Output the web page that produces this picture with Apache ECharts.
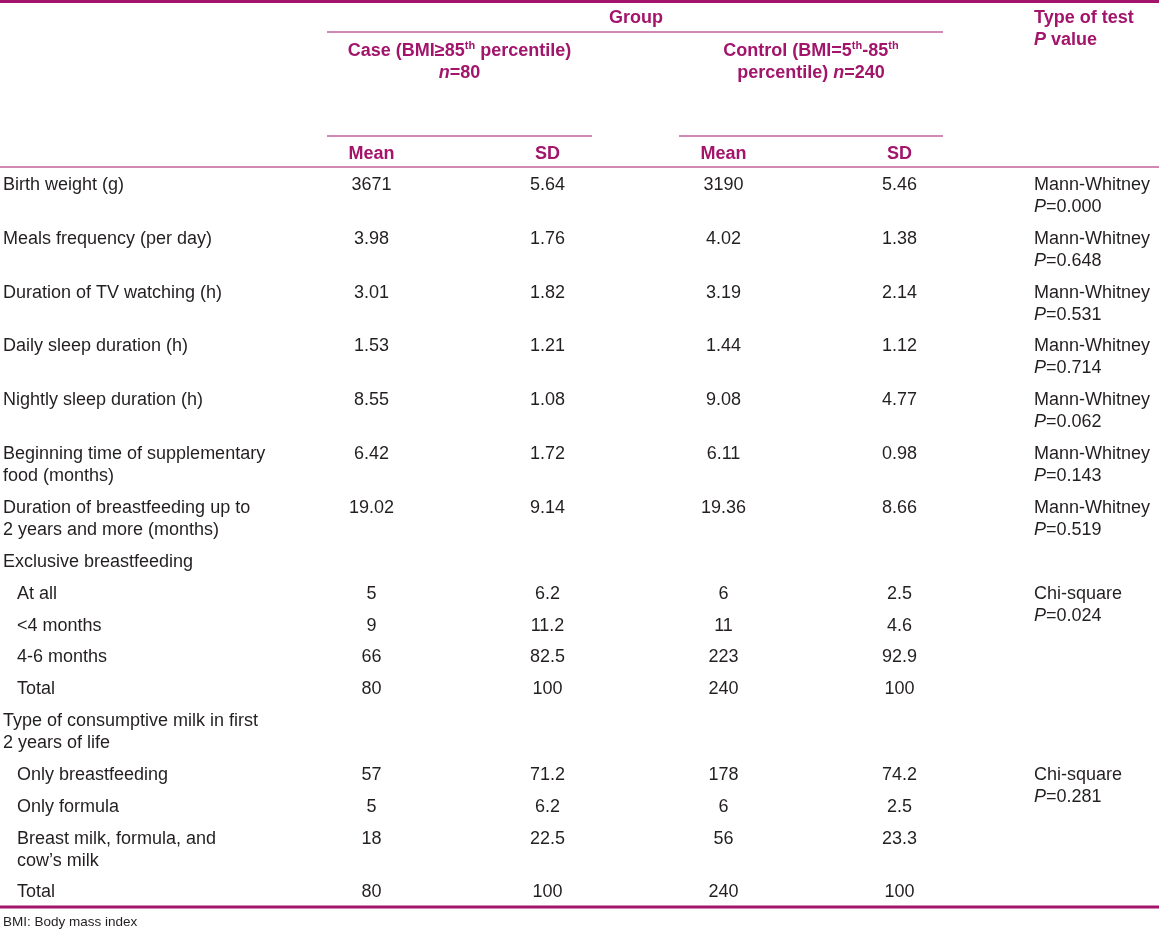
<!DOCTYPE html>
<html>
<head>
<meta charset="utf-8">
<script src="https://cdn.jsdelivr.net/npm/echarts@6/dist/echarts.min.js"></script>
<style>html,body{margin:0;padding:0;background:#fff}#c{width:1159px;height:930px}</style>
</head>
<body>
<div id="c"></div>
<script>
// ---------- DATA ----------
const rowLabels = [
  'Birth weight (g)',
  'Meals frequency (per day)',
  'Duration of TV watching (h)',
  'Daily sleep duration (h)',
  'Nightly sleep duration (h)',
  'Beginning time of supplementary\nfood (months)',
  'Duration of breastfeeding up to\n2 years and more (months)',
  'Exclusive breastfeeding',
  'At all',
  '<4 months',
  '4-6 months',
  'Total',
  'Type of consumptive milk in first\n2 years of life',
  'Only breastfeeding',
  'Only formula',
  'Breast milk, formula, and\ncow\u2019s milk',
  'Total'
];
const subRow   = [0,0,0,0,0,0,0,0,1,1,1,1,0,1,1,1,1];
const caseMean = [3671,3.98,3.01,1.53,8.55,6.42,19.02,null,5,9,66,80,null,57,5,18,80];
const caseSD   = [5.64,1.76,1.82,1.21,1.08,1.72,9.14,null,6.2,11.2,82.5,100,null,71.2,6.2,22.5,100];
const ctrlMean = [3190,4.02,3.19,1.44,9.08,6.11,19.36,null,6,11,223,240,null,178,6,56,240];
const ctrlSD   = [5.46,1.38,2.14,1.12,4.77,0.98,8.66,null,2.5,4.6,92.9,100,null,74.2,2.5,23.3,100];
const testType = ['Mann-Whitney','Mann-Whitney','Mann-Whitney','Mann-Whitney','Mann-Whitney','Mann-Whitney','Mann-Whitney',
                  null,'Chi-square',null,null,null,null,'Chi-square',null,null,null];
const pValue   = ['0.000','0.648','0.531','0.714','0.062','0.143','0.519',
                  null,'0.024',null,null,null,null,'0.281',null,null,null];
const testSpan = [1,1,1,1,1,1,1,0,4,0,0,0,0,4,0,0,0];
const groupTitle = 'Group';
const caseTitle = ['Case (BMI\u226585','th',' percentile)','n','=80'];
const ctrlTitle = ['Control (BMI=5','th','-85','th','percentile) ','n','=240'];
const statHeads = ['Mean','SD','Mean','SD'];
const testTitle = ['Type of test','P',' value'];
const footnote = 'BMI: Body mass index';

// ---------- LAYOUT / STYLE ----------
const W = 1159, H = 930;
const MAG = '#a3146b';
const TXT = '#231f20';
const FONT = 'Liberation Sans, Arial, sans-serif';
const FS = 18, LH = 22, PAD = 9.85;
const X = {label: 3, sub: 17, cm: 371.5, cs: 547.5, km: 723.5, ks: 899.5, test: 1034};

const cells = [];
function cell(x, y, text, align, rich, extra) {
  cells.push(Object.assign({value: [x, y], text: text, align: align, rich: rich || null}, extra || {}));
}
const richStyles = {
  b:   {fontWeight: 'bold', fontSize: FS, fill: MAG, color: MAG, lineHeight: LH, fontFamily: FONT},
  bi:  {fontWeight: 'bold', fontStyle: 'italic', fontSize: FS, fill: MAG, color: MAG, lineHeight: LH, fontFamily: FONT},
  sup: {fontWeight: 'bold', fontSize: 11, fill: MAG, color: MAG, lineHeight: 14, verticalAlign: 'top', fontFamily: FONT},
  i:   {fontStyle: 'italic', fontSize: FS, fill: TXT, color: TXT, lineHeight: LH, fontFamily: FONT},
  n:   {fontSize: FS, fill: TXT, color: TXT, lineHeight: LH, fontFamily: FONT}
};

// header
cell(636, 18, '{b|' + groupTitle + '}', 'center', true);
cell(459.5, 51, '{b|' + caseTitle[0] + '}{sup|' + caseTitle[1] + '}{b|' + caseTitle[2] + '}\n{bi|' + caseTitle[3] + '}{b|' + caseTitle[4] + '}', 'center', true);
cell(811, 51, '{b|' + ctrlTitle[0] + '}{sup|' + ctrlTitle[1] + '}{b|' + ctrlTitle[2] + '}{sup|' + ctrlTitle[3] + '}\n{b|' + ctrlTitle[4] + '}{bi|' + ctrlTitle[5] + '}{b|' + ctrlTitle[6] + '}', 'center', true);
cell(X.test, 18, '{b|' + testTitle[0] + '}\n{bi|' + testTitle[1] + '}{b|' + testTitle[2] + '}', 'left', true);
[X.cm, X.cs, X.km, X.ks].forEach((x, k) => cell(x, 154, '{b|' + statHeads[k] + '}', 'center', true));

// body
let rowTop = 169;
const fmt = v => (v === null || v === undefined) ? '' : String(v);
rowLabels.forEach((lab, r) => {
  const labLines = lab.split('\n').length;
  const tLines = (testSpan[r] === 1 && testType[r]) ? 2 : 1;
  const n = Math.max(labLines, tLines);
  const y = rowTop + PAD / 2 + LH / 2;
  cell(subRow[r] ? X.sub : X.label, y, lab, 'left', false);
  if (caseMean[r] !== null) {
    cell(X.cm, y, fmt(caseMean[r]), 'center', false);
    cell(X.cs, y, fmt(caseSD[r]), 'center', false);
    cell(X.km, y, fmt(ctrlMean[r]), 'center', false);
    cell(X.ks, y, fmt(ctrlSD[r]), 'center', false);
  }
  if (testType[r]) {
    cell(X.test, y, '{n|' + testType[r] + '}\n{i|P}{n|=' + pValue[r] + '}', 'left', true);
  }
  rowTop += PAD + LH * n;
});
const bottomY = rowTop - PAD / 2 + 3.5;
cell(3, bottomY + 15, footnote, 'left', false, {small: true});

const rules = [
  [0, W, 1.5, 3],
  [327, 943, 32, 1],
  [327, 592, 136, 1],
  [679, 943, 136, 1],
  [0, W, 167, 1.2],
  [0, W, bottomY, 3]
];

// ---------- CHART ----------
const chart = echarts.init(document.getElementById('c'), null, {renderer: 'canvas'});
chart.setOption({
  animation: false,
  backgroundColor: '#fff',
  grid: {left: 0, right: 0, top: 0, bottom: 0},
  xAxis: {type: 'value', min: 0, max: W, show: false},
  yAxis: {type: 'value', min: 0, max: H, inverse: true, show: false},
  series: [
    {
      type: 'custom',
      data: rules.map(r => ({value: r})),
      renderItem: function (params, api) {
        const r = rules[params.dataIndex];
        const p1 = api.coord([r[0], r[2]]);
        const p2 = api.coord([r[1], r[2]]);
        return {type: 'line', shape: {x1: p1[0], y1: p1[1], x2: p2[0], y2: p2[1]},
                style: {stroke: MAG, lineWidth: r[3]}};
      }
    },
    {
      type: 'custom',
      data: cells.map(c => ({value: c.value})),
      renderItem: function (params, api) {
        const c = cells[params.dataIndex];
        const p = api.coord([api.value(0), api.value(1)]);
        const small = !!c.small;
        const lh = small ? 16 : LH;
        return {
          type: 'text',
          x: p[0], y: p[1] - lh / 2,
          style: {
            text: c.text,
            rich: c.rich ? richStyles : undefined,
            fill: TXT,
            fontSize: small ? 13.5 : FS,
            fontFamily: FONT,
            lineHeight: lh,
            align: c.align,
            verticalAlign: 'top'
          }
        };
      }
    }
  ]
});
</script>
</body>
</html>
